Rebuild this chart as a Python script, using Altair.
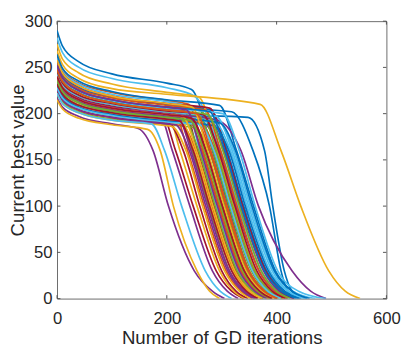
import altair as alt
import pandas as pd

# MATLAB default colour order (cycled over runs)
PALETTE = ["#0072BD", "#D95319", "#EDB120", "#7E2F8E", "#77AC30", "#4DBEEE", "#A2142F"]

# value at iteration 0, 10, 40, 100, 200 for each run (None = run already bending)
START = [290, 262, 268, 217, 238, 282, 250, 256, 244, 215, 236, 228, 260, 242, 249, 232, 275, 245, 224, 238,
         258, 240, 226, 246, 230, 252, 234, 226, 264, 238, 222, 241, 244, 250, 236, 230, 254, 234, 226, 232,
         244, 246, 236, 240, 258, 238, 248, 228, 232, 252, 248, 240, 252, 236, 222, 240]
AT10 = [273, 248, 253, 207, 226, 266, 237, 242, 231, 205, 224, 217, 246, 229, 236, 221, 259, 232, 213, 226,
        244, 228, 215, 233, 219, 239, 222, 215, 249, 226, 211, 229, 231, 237, 224, 219, 240, 222, 215, 221,
        231, 233, 224, 228, 244, 226, 235, 217, 221, 239, 235, 228, 239, 224, 211, 228]
AT40 = [256, 233, 238, 197, 214, 250, 224, 228, 219, 195, 212, 206, 232, 217, 223, 209, 244, 219, 202, 214,
        230, 215, 204, 220, 207, 225, 211, 204, 235, 214, 201, 216, 219, 224, 212, 207, 227, 211, 204, 209,
        219, 220, 212, 215, 230, 214, 222, 206, 209, 225, 222, 215, 225, 212, 201, 215]
AT100 = [243, 223, 227, 189, 205, 238, 214, 218, 210, 188, 203, 198, 221, 208, 213, 201, 232, 210, 194, 205,
         219, 206, 196, 211, 199, 215, 202, 196, 224, 205, 193, 207, 210, 214, 203, 199, 217, 202, 196, 201,
         210, 211, 203, 206, 219, 205, 212, 198, 201, 215, 212, 206, 215, 203, 193, 206]
AT200 = [233, 214, 221, None, 198, 228, 206, 210, 202, None, None, 191, 213, None, 207, 194, 223, 202, 188, 198,
         211, 199, 189, None, 192, 207, 195, None, 215, 198, 187, 200, 202, 206, 196, 192, 209, 195, 189, 194,
         202, 203, 196, 199, 211, 198, 204, 191, 194, 207, 204, 199, 207, 196, None, 199]
# end of the plateau (iteration, value)
BEND_X = [245, 240, 370, 148, 222, 250, 232, 280, 215, 165, 188, 245, 234, 190, 318, 262, 258, 276, 250, 292,
          278, 348, 228, 200, 270, 262, 288, 205, 296, 252, 210, 292, 258, 302, 246, 285, 270, 225, 216, 233,
          290, 266, 296, 238, 246, 219, 274, 260, 223, 278, 254, 229, 236, 242, 172, 245]
BEND_Y = [226, 210, 210, 184, 196, 219, 203, 204, 200, 183, 197, 188, 209, 201, 202, 190, 218, 197, 185, 193,
          206, 196, 187, 203, 188, 203, 190, 189, 209, 194, 186, 193, 198, 200, 193, 187, 204, 193, 188, 192,
          197, 199, 190, 196, 207, 197, 199, 188, 192, 202, 200, 197, 204, 193, 189, 195]
# iteration at which each run crosses 160, 100, 30, 8 and reaches 0
CROSS160 = [283, 266, 408, 175, 246, 298, 256, 310, 238, 188, 210, 271, 260, 216, 357, 288, 292, 304, 277, 322,
            308, 378, 253, 224, 296, 290, 316, 230, 327, 278, 235, 335, 284, 332, 272, 313, 298, 250, 241, 258,
            319, 294, 325, 264, 274, 244, 302, 286, 248, 306, 280, 254, 262, 268, 196, 271]
CROSS100 = [312, 296, 444, 203, 276, 330, 286, 340, 268, 212, 242, 300, 290, 248, 387, 318, 322, 334, 306, 352,
            338, 393, 282, 255, 326, 320, 346, 260, 358, 308, 265, 367, 314, 361, 302, 343, 328, 280, 271, 288,
            349, 324, 355, 294, 304, 274, 332, 316, 278, 336, 310, 284, 292, 298, 227, 301]
CROSS30 = [350, 336, 495, 250, 314, 372, 326, 382, 308, 255, 283, 340, 330, 290, 408, 358, 362, 376, 346, 395,
           380, 414, 322, 296, 368, 360, 388, 300, 398, 348, 305, 428, 354, 402, 342, 385, 368, 320, 311, 328,
           392, 364, 396, 334, 344, 314, 372, 356, 318, 378, 350, 324, 332, 338, 270, 341]
CROSS8 = [378, 364, 525, 283, 340, 400, 352, 412, 335, 278, 310, 368, 358, 318, 420, 388, 390, 404, 374, 430,
          408, 428, 350, 322, 396, 388, 420, 326, 428, 376, 332, 462, 382, 440, 370, 415, 396, 348, 338, 356,
          422, 392, 428, 362, 372, 342, 400, 384, 345, 408, 378, 352, 360, 366, 297, 369]
END_X = [400, 388, 552, 305, 362, 425, 375, 440, 356, 296, 330, 390, 380, 340, 432, 412, 415, 430, 398, 470,
         432, 445, 372, 342, 420, 410, 450, 348, 455, 400, 352, 490, 405, 490, 392, 442, 420, 370, 360, 378,
         455, 416, 460, 385, 395, 364, 425, 408, 366, 436, 402, 374, 382, 388, 318, 392]

XTICKS = [0, 200, 400, 600]
YTICKS = [0, 50, 100, 150, 200, 250, 300]

rows = []
for i in range(len(START)):
    pts = [(0, START[i]), (10, AT10[i]), (40, AT40[i]), (100, AT100[i])]
    if AT200[i] is not None:
        pts.append((200, AT200[i]))
    pts += [(BEND_X[i], BEND_Y[i]), (CROSS160[i], 160), (CROSS100[i], 100),
            (CROSS30[i], 30), (CROSS8[i], 8), (END_X[i], 0)]
    for x, y in pts:
        rows.append({"run": i, "x": x, "y": y, "color": PALETTE[i % 7]})
df = pd.DataFrame(rows)

W, H = 336, 283
AX = "#262626"
FONT = "Liberation Sans"

xscale = alt.Scale(domain=[0, 600], nice=False, zero=False)
yscale = alt.Scale(domain=[0, 300], nice=False, zero=False)

common_axis = dict(grid=False, ticks=False, tickSize=0, domain=False, labelFlush=False,
                   labelFont=FONT, titleFont=FONT, labelFontSize=17, titleFontSize=19,
                   labelColor=AX, titleColor=AX, titleFontWeight="normal")

lines = alt.Chart(df).mark_line(strokeWidth=1.7, interpolate="monotone", clip=True).encode(
    x=alt.X("x:Q", scale=xscale,
            axis=alt.Axis(values=XTICKS, title="Number of GD iterations",
                          labelPadding=12, titlePadding=3, **common_axis)),
    y=alt.Y("y:Q", scale=yscale,
            axis=alt.Axis(values=YTICKS, title="Current best value",
                          labelPadding=5, titlePadding=-3, **common_axis)),
    color=alt.Color("color:N", scale=None),
    detail="run:N",
    order="x:Q",
)

xt = pd.DataFrame({"x": XTICKS})
yt = pd.DataFrame({"y": YTICKS})
tick_style = dict(color="#555555", strokeWidth=1)
tb = alt.Chart(xt).mark_rule(**tick_style).encode(x=alt.X("x:Q", scale=xscale), y=alt.value(H), y2=alt.value(H - 3.5))
tt = alt.Chart(xt).mark_rule(**tick_style).encode(x=alt.X("x:Q", scale=xscale), y=alt.value(0), y2=alt.value(3.5))
tl = alt.Chart(yt).mark_rule(**tick_style).encode(y=alt.Y("y:Q", scale=yscale), x=alt.value(0), x2=alt.value(3.5))
tr = alt.Chart(yt).mark_rule(**tick_style).encode(y=alt.Y("y:Q", scale=yscale), x=alt.value(W), x2=alt.value(W - 3.5))

chart = alt.layer(tb, tt, tl, tr, lines).properties(
    width=W, height=H,
    autosize="none",
    background="white",
    padding={"left": 50, "top": 10, "right": 21, "bottom": 49},
).configure_view(
    stroke="#6a6a6a", strokeWidth=1
)

chart.save("out.html", embed_options={"renderer": "svg", "actions": False})
